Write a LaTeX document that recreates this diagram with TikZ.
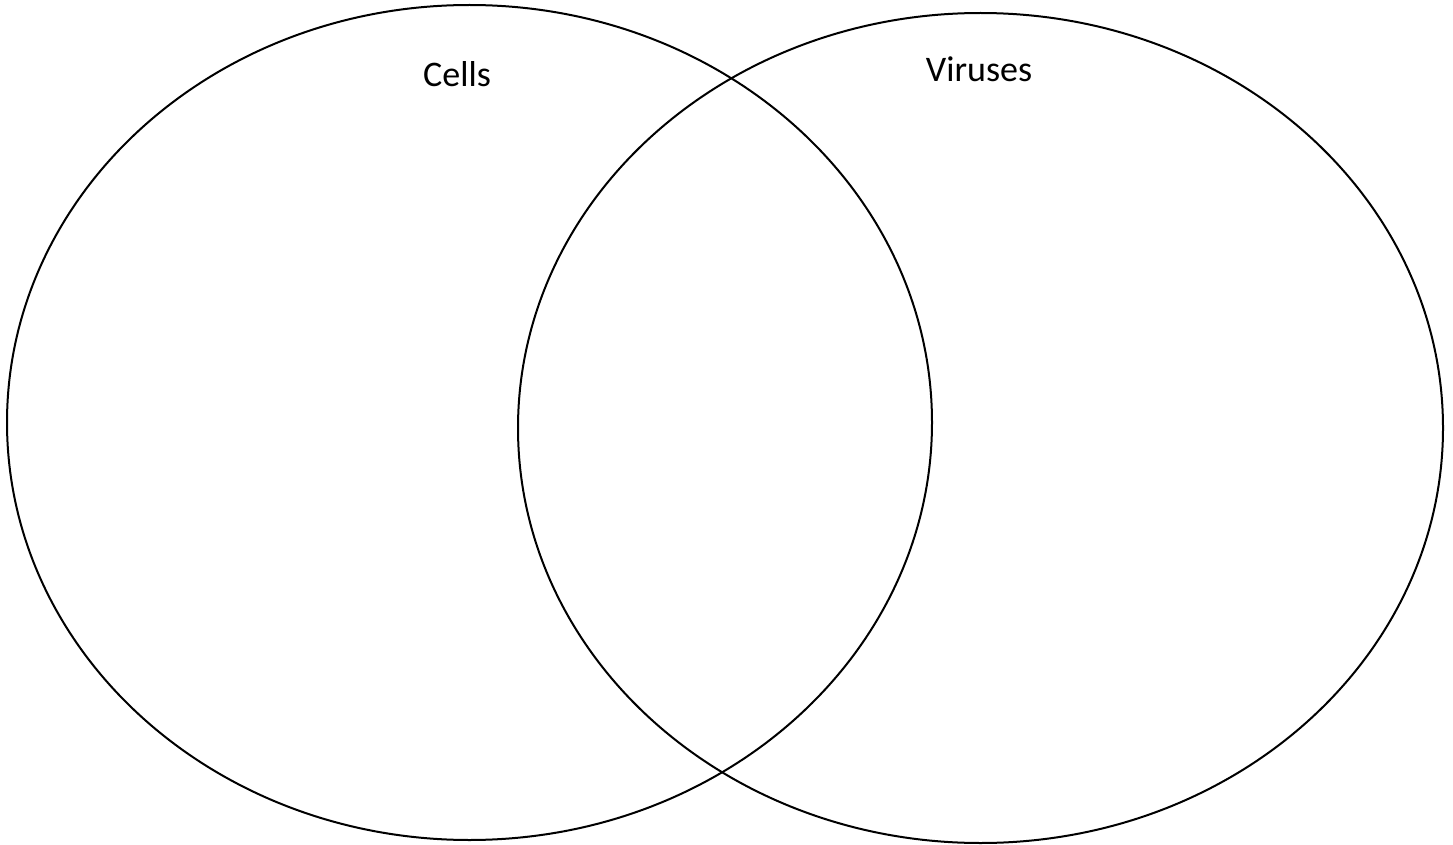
\documentclass[tikz,border=0pt]{standalone}
\usepackage{fontspec}
\setmainfont{Carlito}
\begin{document}
\begin{tikzpicture}[x=1pt,y=-1pt]
            \useasboundingbox (0,0) rectangle (1453,845);
            \draw[line width=2pt] (469.5,422.5) ellipse [x radius=462.5pt, y radius=417.5pt];
            \draw[line width=2pt] (980.5,428) ellipse [x radius=462.5pt, y radius=415pt];

            \node[anchor=base] (cells) at (457, 87) {\fontsize{36}{43}\selectfont Cells};
            \node[anchor=base] (viruses) at (979, 82) {\fontsize{36}{43}\selectfont Viruses};
        \end{tikzpicture}
\end{document}
